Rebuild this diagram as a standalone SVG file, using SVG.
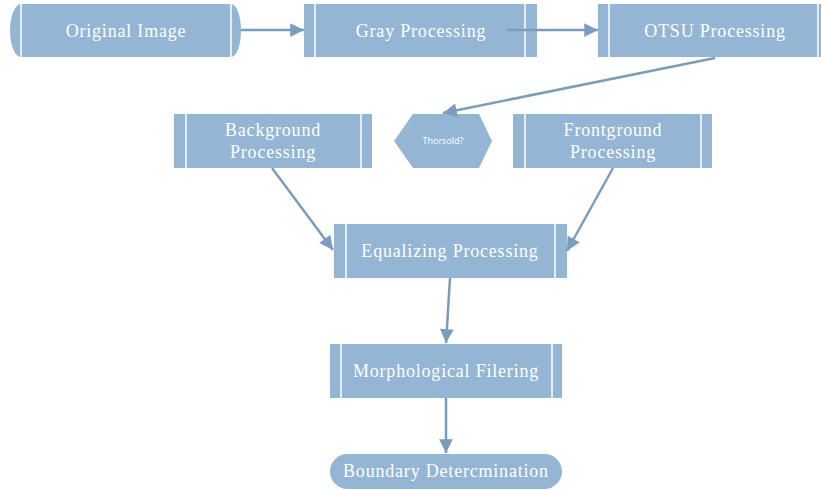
<svg xmlns="http://www.w3.org/2000/svg" width="821" height="490" viewBox="0 0 821 490">
<defs>
<style>
.n{fill:#94b6d4;stroke:none}
.d{stroke:#ffffff;stroke-width:1.5;fill:none}
.t{font-family:"Liberation Serif","Times New Roman",serif;font-size:18px;letter-spacing:0.8px;fill:#ffffff;text-anchor:middle}
.s{font-family:"Open Sans","Noto Sans",sans-serif;font-size:9px;fill:#ffffff;text-anchor:middle}
.e{stroke:#7b9dbd;stroke-width:2.5;fill:none;marker-end:url(#ah)}
</style>
<marker id="ah" viewBox="0 0 10 10" refX="10" refY="5" markerWidth="7" markerHeight="5.5" markerUnits="strokeWidth" orient="auto">
<path d="M0,0 L10,5 L0,10 Z" fill="#7b9dbd"/>
</marker>
</defs>
<rect width="821" height="490" fill="#ffffff"/>
<g id="original">
<path class="n" d="M21,4 L231,4 A10,26.5 0 0 1 231,57 L21,57 A11,26.5 0 0 1 21,4 Z"/>
<line class="d" x1="21" y1="4" x2="21" y2="57"/>
<line class="d" x1="231" y1="4" x2="231" y2="57"/>
<text class="t" x="126" y="37">Original Image</text>
</g>
<g id="gray">
<rect class="n" x="304" y="4" width="233" height="53"/>
<line class="d" x1="315" y1="4" x2="315" y2="57"/>
<line class="d" x1="525" y1="4" x2="525" y2="57"/>
<text class="t" x="421" y="37">Gray Processing</text>
</g>
<g id="otsu">
<rect class="n" x="598" y="4" width="223" height="53"/>
<line class="d" x1="609" y1="4" x2="609" y2="57"/>
<line class="d" x1="818" y1="4" x2="818" y2="57"/>
<text class="t" x="715" y="37">OTSU Processing</text>
</g>
<g id="background">
<rect class="n" x="174" y="114" width="198" height="54"/>
<line class="d" x1="186" y1="114" x2="186" y2="168"/>
<line class="d" x1="361" y1="114" x2="361" y2="168"/>
<text class="t" x="273" y="136">Background</text>
<text class="t" x="273" y="158">Processing</text>
</g>
<g id="threshold">
<polygon class="n" points="394,141 413,114 479,114 492,141 479,168 413,168"/>
<text class="s" x="443" y="144">Thorsold?</text>
</g>
<g id="frontground">
<rect class="n" x="513" y="114" width="199" height="54"/>
<line class="d" x1="525" y1="114" x2="525" y2="168"/>
<line class="d" x1="701" y1="114" x2="701" y2="168"/>
<text class="t" x="613" y="136">Frontground</text>
<text class="t" x="613" y="158">Processing</text>
</g>
<g id="equalizing">
<rect class="n" x="334" y="224" width="233" height="54"/>
<line class="d" x1="346" y1="224" x2="346" y2="278"/>
<line class="d" x1="555" y1="224" x2="555" y2="278"/>
<text class="t" x="450" y="257">Equalizing Processing</text>
</g>
<g id="morphological">
<rect class="n" x="330" y="344" width="232" height="54"/>
<line class="d" x1="341" y1="344" x2="341" y2="398"/>
<line class="d" x1="552" y1="344" x2="552" y2="398"/>
<text class="t" x="446" y="377">Morphological Filering</text>
</g>
<g id="boundary">
<rect class="n" x="330" y="454" width="232" height="35" rx="17.5" ry="17.5"/>
<text class="t" x="446" y="477">Boundary Detercmination</text>
</g>
<g id="connectors">
<line class="e" x1="241" y1="30" x2="304" y2="30"/>
<line class="e" x1="507" y1="30" x2="598" y2="30"/>
<line class="e" x1="715" y1="58" x2="443" y2="113"/>
<line class="e" x1="272" y1="168" x2="333" y2="250"/>
<line class="e" x1="613" y1="168" x2="567" y2="251"/>
<line class="e" x1="450" y1="278" x2="446" y2="343"/>
<line class="e" x1="446" y1="398" x2="446" y2="453"/>
</g>
</svg>
